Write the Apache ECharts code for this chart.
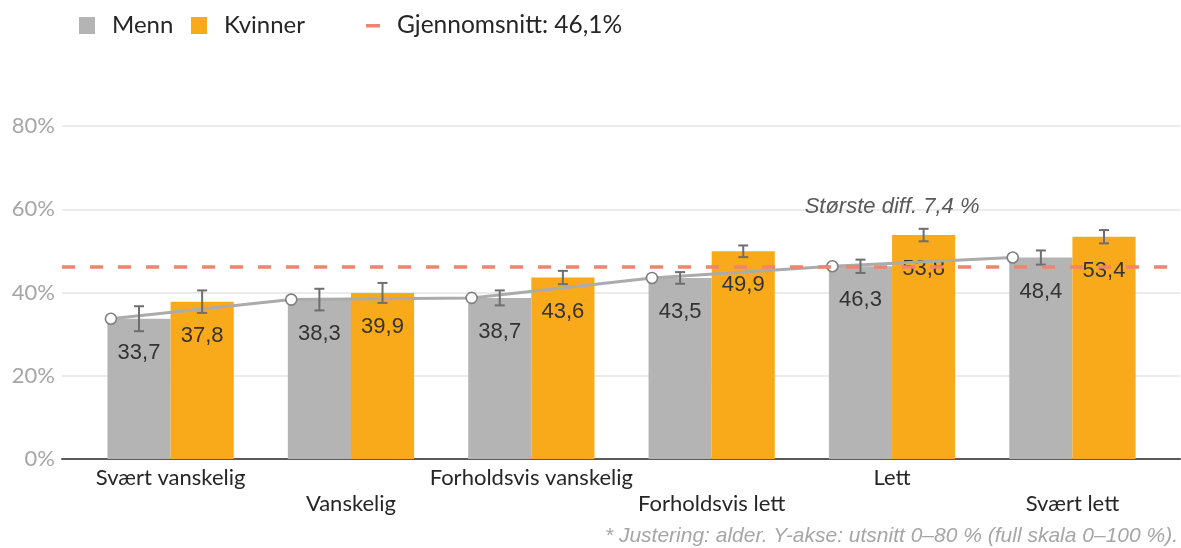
<!DOCTYPE html>
<html>
<head>
<meta charset="utf-8">
<script src="https://cdn.jsdelivr.net/npm/echarts@6/dist/echarts.min.js"></script>
<style>
  html, body { margin: 0; padding: 0; background: #fff; }
  #chart { width: 1181px; height: 548px; }
</style>
</head>
<body>
<div id="chart"></div>
<script>
// Andel (%) per vanskelighetsgrad, justert for alder
const categories = ['Svært vanskelig', 'Vanskelig', 'Forholdsvis vanskelig', 'Forholdsvis lett', 'Lett', 'Svært lett'];
const menn = [33.7, 38.3, 38.7, 43.5, 46.3, 48.4];
const kvinner = [37.8, 39.9, 43.6, 49.9, 53.8, 53.4];
// halve lengden av feilstolpene (prosentpoeng)
const mennErr = [3.0, 2.6, 1.8, 1.4, 1.6, 1.7];
const kvinnerErr = [2.7, 2.4, 1.6, 1.4, 1.5, 1.6];
const average = 46.1;
const yMin = 0, yMax = 80, yStep = 20;
const noteText = 'Største diff. 7,4 %';
const noteCategory = 'Lett';
const noteLevel = 60.5;
const footnote = '* Justering: alder. Y-akse: utsnitt 0–80 % (full skala 0–100 %).';

const GREY = '#B4B4B4';
const ORANGE = '#F9AA1A';
const SALMON = '#F2836F';
const LABEL_FONT = '"Liberation Sans", Arial, sans-serif';
const UI_FONT = 'Lato, "Noto Sans", sans-serif';
const BAR_SHARE = 0.35;          // each bar's share of a category band
const MARKER_SHIFT = 0.019;      // circles sit just inside the left edge of the Menn bar

const fmt = v => String(v).replace('.', ',');

const chart = echarts.init(document.getElementById('chart'), null, { renderer: 'canvas' });

function errorBars(side) {
  return function (params, api) {
    const i = api.value(0), v = api.value(1), e = api.value(2);
    const band = api.size([1, 0])[0];
    const x = api.coord([i, v])[0] + side * band * BAR_SHARE / 2;
    const yTop = api.coord([i, v + e])[1];
    const yBot = api.coord([i, v - e])[1];
    const cap = 5;
    const style = { stroke: '#6E6E6E', lineWidth: 2 };
    return {
      type: 'group',
      children: [
        { type: 'line', shape: { x1: x, y1: yTop, x2: x, y2: yBot }, style },
        { type: 'line', shape: { x1: x - cap, y1: yTop, x2: x + cap, y2: yTop }, style },
        { type: 'line', shape: { x1: x - cap, y1: yBot, x2: x + cap, y2: yBot }, style }
      ]
    };
  };
}

const barLabel = {
  show: true,
  position: 'insideTop',
  distance: 23,
  formatter: p => fmt(p.value),
  fontFamily: LABEL_FONT,
  fontSize: 22,
  color: '#333333'
};

const option = {
  animation: false,
  backgroundColor: '#ffffff',
  grid: [
    { left: 62, right: 1, top: 126, bottom: 89 },
    { left: 80.4, right: 18.4, top: 126, bottom: 89 }
  ],
  xAxis: [
    {
      gridIndex: 0, type: 'value', min: 0, max: 1,
      axisLine: { show: true, onZero: false, lineStyle: { color: '#595959', width: 2 } },
      axisTick: { show: false }, axisLabel: { show: false }, splitLine: { show: false }
    },
    {
      gridIndex: 1, type: 'category', data: categories,
      axisLine: { show: false }, axisTick: { show: false },
      axisLabel: {
        interval: 0,
        margin: 6,
        fontFamily: UI_FONT,
        fontSize: 22,
        lineHeight: 26,
        color: '#262626',
        formatter: (v, i) => (i % 2 ? '\n' + v : v)
      }
    },
    { gridIndex: 1, type: 'value', min: 0, max: categories.length, show: false }
  ],
  yAxis: [
    {
      gridIndex: 0, type: 'value', min: yMin, max: yMax, interval: yStep,
      axisLine: { show: false }, axisTick: { show: false },
      axisLabel: {
        formatter: '{value}%', margin: 7,
        fontFamily: UI_FONT, fontSize: 22, color: '#A6A6A6'
      },
      splitLine: { lineStyle: { color: '#EBEBEB', width: 2 } }
    },
    { gridIndex: 1, type: 'value', min: yMin, max: yMax, interval: yStep, show: false }
  ],
  series: [
    {
      name: 'Gjennomsnitt',
      type: 'line',
      xAxisIndex: 0, yAxisIndex: 0,
      data: [],
      markLine: {
        silent: true,
        symbol: ['none', 'none'],
        label: { show: false },
        lineStyle: { color: SALMON, width: 3.5, type: [13, 15] },
        data: [{ yAxis: average }]
      }
    },
    {
      name: 'Menn',
      type: 'bar',
      xAxisIndex: 1, yAxisIndex: 1,
      data: menn,
      barGap: '0%',
      barCategoryGap: '30%',
      itemStyle: { color: GREY },
      label: barLabel
    },
    {
      name: 'Kvinner',
      type: 'bar',
      xAxisIndex: 1, yAxisIndex: 1,
      data: kvinner,
      barGap: '0%',
      barCategoryGap: '30%',
      itemStyle: { color: ORANGE },
      label: barLabel
    },
    {
      name: 'Menn trend',
      type: 'line',
      xAxisIndex: 2, yAxisIndex: 1,
      data: menn.map((v, i) => [i + 0.5 - BAR_SHARE + MARKER_SHIFT, v]),
      symbol: 'circle',
      symbolSize: 11,
      showSymbol: true,
      lineStyle: { color: '#ABABAB', width: 3 },
      itemStyle: { color: '#ffffff', borderColor: '#7F7F7F', borderWidth: 1.6 },
      z: 3
    },
    {
      name: 'Menn feil',
      type: 'custom',
      xAxisIndex: 1, yAxisIndex: 1,
      renderItem: errorBars(-1),
      data: menn.map((v, i) => [i, v, mennErr[i]]),
      z: 4,
      markPoint: {
        symbol: 'circle',
        symbolSize: 0,
        label: {
          show: true,
          position: 'inside',
          formatter: noteText,
          fontFamily: LABEL_FONT,
          fontStyle: 'italic',
          fontSize: 22,
          color: '#595959'
        },
        data: [{ coord: [noteCategory, noteLevel] }]
      }
    },
    {
      name: 'Kvinner feil',
      type: 'custom',
      xAxisIndex: 1, yAxisIndex: 1,
      renderItem: errorBars(1),
      data: kvinner.map((v, i) => [i, v, kvinnerErr[i]]),
      z: 4
    }
  ],
  graphic: [
    { type: 'rect', left: 79, top: 17, shape: { width: 16, height: 17 }, style: { fill: GREY } },
    { type: 'text', left: 112, top: 13, style: { text: 'Menn', font: '24px ' + UI_FONT, fill: '#262626' } },
    { type: 'rect', left: 191, top: 17, shape: { width: 16, height: 17 }, style: { fill: ORANGE } },
    { type: 'text', left: 224, top: 13, style: { text: 'Kvinner', font: '24px ' + UI_FONT, fill: '#262626' } },
    { type: 'rect', left: 366, top: 24, shape: { width: 14, height: 3.5 }, style: { fill: SALMON } },
    { type: 'text', left: 397, top: 13, style: { text: 'Gjennomsnitt: ' + fmt(average) + '%', font: '24.5px ' + UI_FONT, fill: '#262626' } },
    { type: 'text', right: 3, top: 526, style: { text: footnote, font: 'italic 21px ' + LABEL_FONT, fill: '#A6A6A6' } }
  ]
};

chart.setOption(option);
</script>
</body>
</html>
